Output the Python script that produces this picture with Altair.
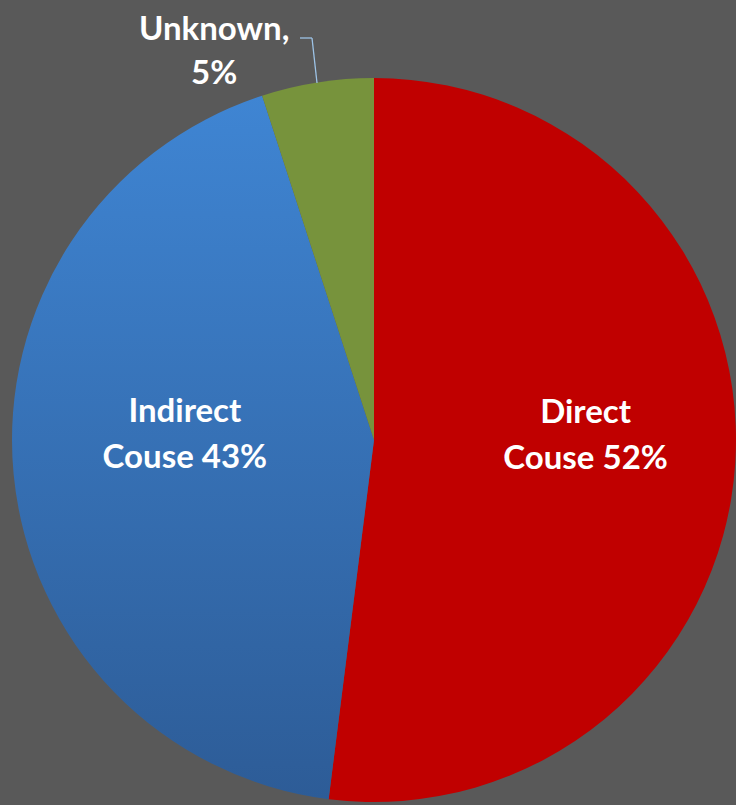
import math
import jinja2
import altair as alt
import pandas as pd

# ---- data ----
categories = ["Direct Couse", "Indirect Couse", "Unknown"]
values = [52, 43, 5]
label_texts = ["Direct\nCouse 52%", "Indirect\nCouse 43%", "Unknown,\n5%"]
slice_colors = ["#C00000", "#3A78C3", "#77933C"]
slice_order = [0, 1, 2]

df = pd.DataFrame({
    "category": categories,
    "value": values,
    "label": label_texts,
    "order": slice_order,
})

BG = "#595959"
CX, CY, R = 374, 440, 362
FONT = "Lato"
FS = 33

theta_scale = alt.Scale(domain=[0, 1], range=[0, 2 * math.pi])

base = alt.Chart(df).transform_joinaggregate(
    total="sum(value)"
).transform_window(
    cum="sum(value)", sort=[alt.SortField("order")], frame=[None, 0]
).transform_calculate(
    t0="(datum.cum - datum.value) / datum.total",
    t1="datum.cum / datum.total",
    tm="(datum.cum - datum.value / 2) / datum.total",
)

blue_gradient = {
    "gradient": "linear",
    "x1": 0, "y1": 0, "x2": 0, "y2": 1,
    "stops": [
        {"offset": 0, "color": "#3F85D3"},
        {"offset": 1, "color": "#2D5C97"},
    ],
}

pie = base.mark_arc(radius=R).encode(
    theta=alt.Theta("t0:Q", scale=theta_scale),
    theta2="t1:Q",
    fill=alt.condition(
        "datum.category == 'Indirect Couse'",
        alt.value(blue_gradient),
        alt.Fill("category:N", scale=alt.Scale(domain=categories, range=slice_colors), legend=None),
    ),
    x=alt.value(CX),
    y=alt.value(CY),
)


def label_layer(cat, radius, dx, dy, lh):
    return base.transform_filter(alt.datum.category == cat).mark_text(
        radius=radius, dx=dx, dy=dy, font=FONT, fontSize=FS, fontWeight="bold",
        color="white", align="center", baseline="middle", lineBreak="\n", lineHeight=lh,
    ).encode(
        theta=alt.Theta("tm:Q", scale=theta_scale),
        text="label:N",
        x=alt.value(CX),
        y=alt.value(CY),
    )


t_direct = label_layer("Direct Couse", 212, 0, -40, 46)
t_indirect = label_layer("Indirect Couse", 190, 0, -46, 46)
t_unknown = label_layer("Unknown", 395, -98, -20, 44)

unknown_only = alt.Chart(df).transform_filter(alt.datum.category == "Unknown")
leader_h = unknown_only.mark_rule(color="#9DC3E6", strokeWidth=1.3).encode(
    x=alt.value(300), x2=alt.value(312), y=alt.value(38), y2=alt.value(38)
)
leader_v = unknown_only.mark_rule(color="#9DC3E6", strokeWidth=1.3).encode(
    x=alt.value(312), x2=alt.value(317), y=alt.value(38), y2=alt.value(83)
)

chart = alt.layer(pie, leader_h, leader_v, t_direct, t_indirect, t_unknown).properties(
    width=736,
    height=805,
    autosize=alt.AutoSizeParams(type="none"),
    padding=0,
    background=BG,
).configure_view(strokeWidth=0)

PAGE_TEMPLATE = jinja2.Template("""<!DOCTYPE html>
<html>
<head>
  <style>
    html, body { margin: 0; padding: 0; background: """ + BG + """; overflow: hidden; }
    #{{ output_div }}.vega-embed { width: 100%; display: flex; }
  </style>
  <script type="text/javascript" src="{{ base_url }}/vega@{{ vega_version }}"></script>
  <script type="text/javascript" src="{{ base_url }}/vega-lite@{{ vegalite_version }}"></script>
  <script type="text/javascript" src="{{ base_url }}/vega-embed@{{ vegaembed_version }}"></script>
</head>
<body>
  <div id="{{ output_div }}"></div>
  <script>
    (function(vegaEmbed) {
      var spec = {{ spec }};
      var embedOpt = {{ embed_options }};
      vegaEmbed("#{{ output_div }}", spec, embedOpt).catch(function(e) { console.error(e); });
    })(vegaEmbed);
  </script>
</body>
</html>
""")

chart.save("out.html", embed_options={"renderer": "svg", "actions": False}, template=PAGE_TEMPLATE)
